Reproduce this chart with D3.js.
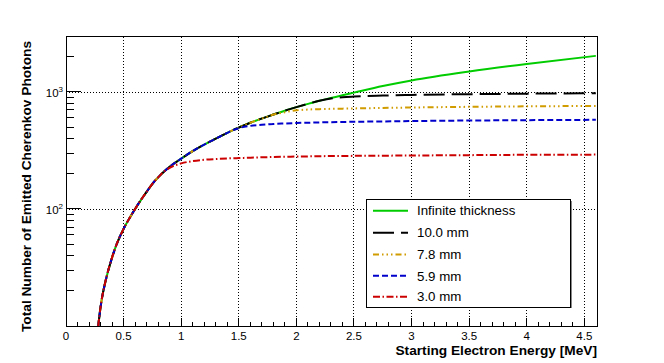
<!DOCTYPE html>
<html>
<head>
<meta charset="utf-8">
<script src="https://cdn.jsdelivr.net/npm/d3@7"></script>
<style>
  html, body { margin: 0; padding: 0; background: #fff; }
  svg { display: block; font-family: "Liberation Sans", Arial, Helvetica, sans-serif; }
</style>
</head>
<body>
<svg id="chart" width="664" height="363"></svg>
<script>
// ---- data ----
const energy = [0.28,0.30,0.31,0.34,0.40,0.44,0.50,0.55,0.60,0.65,0.70,0.75,0.80,0.85,0.90,1.00,1.10,1.20,1.30,1.40,1.45,1.50,1.60,1.75,1.80,1.90,2.00,2.10,2.20,2.30,2.40,2.50,2.75,3.00,3.50,4.00,4.60];
const infinite = [10,14.5,16.8,23.4,38.5,50,67.6,83,100,119,140,164,186,208,229,269,312,355,398,446,471,495,545,615,640,690,740,790,840,885,935,985,1120,1250,1490,1730,2030];
const mm100 = [10,14.5,16.8,23.4,38.5,50,67.6,83,100,119,140,164,186,208,229,269,312,355,398,446,471,495,545,615,640,690,740,790,840,878,900,912,930,942,955,965,972];
const mm78 = [10,14.5,16.8,23.4,38.5,50,67.6,83,100,119,140,164,186,208,229,269,312,355,398,446,471,495,545,615,640,670,695,706,712,716,719,722,729,735,745,752,758];
const mm59 = [10,14.5,16.8,23.4,38.5,50,67.6,83,100,119,140,164,186,208,229,269,312,355,398,446,471,490,512,527,532,537,542,545,548,551,553,555,559,563,569,573,577];
const mm30 = [10,14.5,16.8,23.4,38.5,50,67.6,83,100,119,140,164,186,208,224,245,256,263,267,270,271,272,274,277,278,279,280,281,282,283,283.5,284,285,286,288,290,291];
const seriesNames = ["Infinite thickness","10.0 mm","7.8 mm","5.9 mm","3.0 mm"];
const xTickLabels = ["0","0.5","1","1.5","2","2.5","3","3.5","4","4.5"];
const yTickLabels = ["2","3"]; // exponents of 10
const xTitle = "Starting Electron Energy [MeV]";
const yTitle = "Total Number of Emitted Cherenkov Photons";

// ---- layout ----
const L = 66, T = 36, R = 597, B = 326;
const svg = d3.select("#chart");
const x = d3.scaleLinear().domain([0, 4.61]).range([L, R]);
const y = d3.scaleLog().domain([10, 3000]).range([B, T]);

const styles = [
  {color: "#00cc00", dash: null},
  {color: "#000000", dash: "21,7"},
  {color: "#d09c00", dash: "6,3,1.5,3,1.5,3,1.5,3"},
  {color: "#0000cc", dash: "6,3"},
  {color: "#cc0000", dash: "7,2.5,1.5,2.5"}
];
const allSeries = [infinite, mm100, mm78, mm59, mm30];

// grid
const gridX = xTickLabels.map(Number).filter(v => v > 0);
svg.append("g").selectAll("line").data(gridX).join("line")
  .attr("x1", d => x(d)).attr("x2", d => x(d))
  .attr("y1", B).attr("y2", T)
  .attr("stroke", "#000").attr("stroke-width", 1)
  .attr("stroke-dasharray", "1,2").attr("shape-rendering", "crispEdges");
const gridY = yTickLabels.map(e => Math.pow(10, +e));
svg.append("g").selectAll("line").data(gridY).join("line")
  .attr("x1", L).attr("x2", R)
  .attr("y1", d => Math.round(y(d)) + 0.5).attr("y2", d => Math.round(y(d)) + 0.5)
  .attr("stroke", "#000").attr("stroke-width", 1)
  .attr("stroke-dasharray", "1,2");

// curves
const line = d3.line().x((d, i) => x(energy[i])).y(d => y(d)).curve(d3.curveMonotoneX);
svg.append("clipPath").attr("id", "clip").append("rect")
  .attr("x", L).attr("y", T).attr("width", R - L).attr("height", B - T);
const curves = svg.append("g").attr("clip-path", "url(#clip)");
allSeries.forEach((s, k) => {
  curves.append("path").datum(s)
    .attr("d", line)
    .attr("fill", "none")
    .attr("stroke", styles[k].color)
    .attr("stroke-width", 2)
    .attr("stroke-dasharray", styles[k].dash);
});

// axes ticks
const axX = svg.append("g");
const majorX = xTickLabels.map(Number);
const minorX = d3.range(0, 46).map(i => i / 10).filter(v => Math.abs(v * 2 - Math.round(v * 2)) > 1e-6);
axX.selectAll("line.maj").data(majorX).join("line").attr("class", "maj")
  .attr("x1", d => x(d)).attr("x2", d => x(d)).attr("y1", B).attr("y2", B - 8)
  .attr("stroke", "#000").attr("shape-rendering", "crispEdges");
axX.selectAll("line.min").data(minorX).join("line").attr("class", "min")
  .attr("x1", d => x(d)).attr("x2", d => x(d)).attr("y1", B).attr("y2", B - 4)
  .attr("stroke", "#000").attr("shape-rendering", "crispEdges");
axX.selectAll("text").data(xTickLabels).join("text")
  .attr("x", d => x(+d)).attr("y", 339.5)
  .attr("text-anchor", "middle").attr("font-size", 11.5).attr("fill", "#000")
  .text(d => d);

const axY = svg.append("g");
const minorY = [20,30,40,50,60,70,80,90,200,300,400,500,600,700,800,900,2000];
axY.selectAll("line.min").data(minorY).join("line").attr("class", "min")
  .attr("x1", L).attr("x2", L + 8).attr("y1", d => y(d)).attr("y2", d => y(d))
  .attr("stroke", "#000").attr("shape-rendering", "crispEdges");
axY.selectAll("line.maj").data(gridY).join("line").attr("class", "maj")
  .attr("x1", L).attr("x2", L + 15).attr("y1", d => y(d)).attr("y2", d => y(d))
  .attr("stroke", "#000").attr("shape-rendering", "crispEdges");
const yl = axY.selectAll("text").data(yTickLabels).join("text")
  .attr("x", 63).attr("y", d => y(Math.pow(10, +d)) + 5)
  .attr("text-anchor", "end").attr("font-size", 11.5).attr("fill", "#000");
yl.append("tspan").text("10");
yl.append("tspan").attr("font-size", 8).attr("dy", -4.5).text(d => d);

// frame
svg.append("rect").attr("x", L + 0.5).attr("y", T + 0.5)
  .attr("width", R - L).attr("height", B - T)
  .attr("fill", "none").attr("stroke", "#000").attr("stroke-width", 1);

// titles
svg.append("text").attr("x", 597).attr("y", 354.5)
  .attr("text-anchor", "end").attr("font-size", 13.7).attr("font-weight", "bold")
  .text(xTitle);
svg.append("text").attr("transform", "translate(30.5,332) rotate(-90)")
  .attr("text-anchor", "start").attr("font-size", 13.7).attr("font-weight", "bold")
  .text(yTitle);

// legend
const lg = svg.append("g");
lg.append("rect").attr("x", 366.5).attr("y", 199.5).attr("width", 204).attr("height", 108)
  .attr("fill", "#fff").attr("stroke", "#000").attr("stroke-width", 1);
lg.append("line").attr("x1", 571.5).attr("x2", 571.5).attr("y1", 201).attr("y2", 308)
  .attr("stroke", "#888").attr("stroke-width", 1);
const rowY = [210.7, 232.7, 254.5, 275.8, 296.7];
seriesNames.forEach((name, k) => {
  lg.append("line").attr("x1", 373).attr("x2", 408).attr("y1", rowY[k]).attr("y2", rowY[k])
    .attr("stroke", styles[k].color).attr("stroke-width", 2)
    .attr("stroke-dasharray", styles[k].dash);
  lg.append("text").attr("x", 417).attr("y", rowY[k] + 4.7)
    .attr("font-size", 13.3).attr("fill", "#000").text(name);
});
</script>
</body>
</html>
